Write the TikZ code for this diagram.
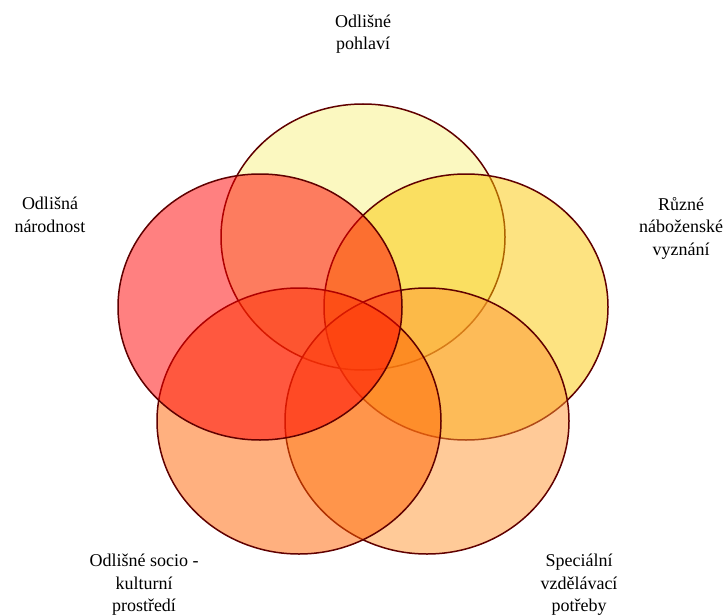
\documentclass[tikz,border=0pt]{standalone}
\usepackage{fontspec}
\setmainfont{Liberation Serif}
\usetikzlibrary{shapes.geometric}
\definecolor{cTop}{RGB}{247,241,129}
\definecolor{cRight}{RGB}{251,199,3}
\definecolor{cBR}{RGB}{255,149,49}
\definecolor{cBL}{RGB}{255,97,0}
\definecolor{cLeft}{RGB}{255,1,1}
\definecolor{cLine}{RGB}{96,0,0}
\tikzset{
  venn/.style={ellipse, draw=cLine, line width=1.5pt, fill opacity=0.5,
    minimum width=284pt, minimum height=266pt, inner sep=0pt},
  lbl/.style={align=center, font=\fontsize{18}{22.5}\selectfont, inner sep=0pt}
}
\begin{document}
\begin{tikzpicture}[x=1pt,y=-1pt]
\useasboundingbox (0,0) rectangle (725,615);
\node[venn, fill=cTop]   (top)   at (363,237) {};
\node[venn, fill=cRight] (right) at (466,307) {};
\node[venn, fill=cBR]    (br)    at (427,421) {};
\node[venn, fill=cBL]    (bl)    at (299,421) {};
\node[venn, fill=cLeft]  (left)  at (260,307) {};
\node[lbl] (ltop)   at (363,34)  {Odlišné\\pohlaví};
\node[lbl] (lleft)  at (50,215)  {Odlišná\\národnost};
\node[lbl] (lright) at (681,228) {Různé\\náboženské\\vyznání};
\node[lbl] (lbl)    at (144,585) {Odlišné socio -\\kulturní\\prostředí};
\node[lbl] (lbr)    at (579,585) {Speciální\\vzdělávací\\potřeby};
\end{tikzpicture}
\end{document}
